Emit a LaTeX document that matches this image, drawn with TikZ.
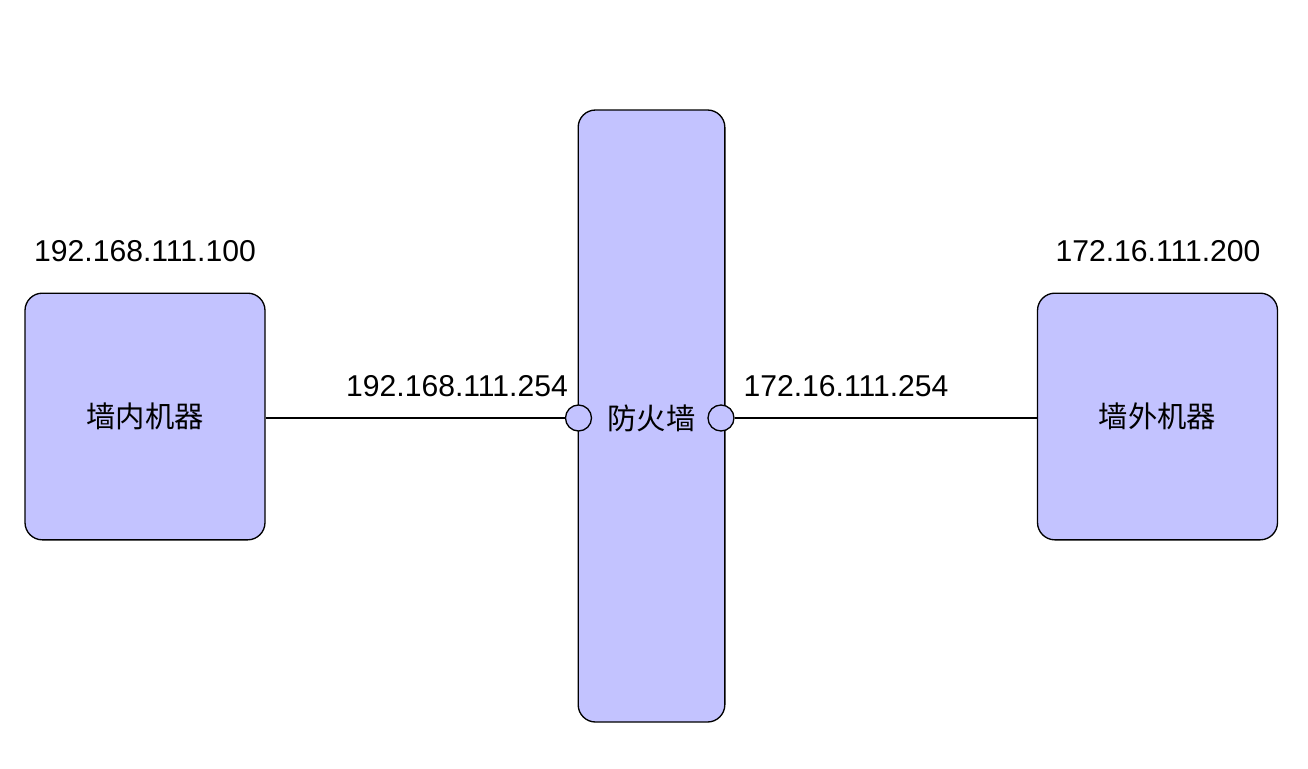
\documentclass[tikz,border=0pt]{standalone}
\usepackage{fontspec}
\setmainfont{Liberation Sans}
\newfontfamily\cjk{Noto Sans CJK SC}
\usepackage{tikz}
\usetikzlibrary{positioning}
\definecolor{wallblue}{RGB}{195,195,255}

\begin{document}
\begin{tikzpicture}[x=0.75pt,y=-0.75pt,line width=1pt,
  host/.style={draw,fill=wallblue,rounded corners=13pt,minimum width=180pt,minimum height=185pt,font=\cjk\fontsize{22}{26}\selectfont},
  port/.style={draw,fill=wallblue,circle,inner sep=0pt,minimum size=19.5pt},
  addr/.style={font=\fontsize{22.6}{27}\selectfont}]
\useasboundingbox (0,0) rectangle (1308,768);
\node[draw,fill=wallblue,rounded corners=13pt,minimum width=110pt,minimum height=459pt] (fw) at (651.5,416) {};
\node[host] (inner) at (145,416.5) {墙内机器};
\node[host] (outer) at (1157.5,416.5) {墙外机器};
\node[port] (pin) at (578.5,418) {};
\node[port] (pout) at (721,418) {};
\node[font=\cjk\fontsize{22}{26}\selectfont] (fwtext) at (651.5,418) {防火墙};
\draw (inner.east |- pin) -- (pin.west);
\draw (pout.east) -- (outer.west |- pout);
%% addresses
\node[addr] (ipin) at (145,251) {192.168.111.100};
\node[addr] (ipout) at (1158,251) {172.16.111.200};
\node[addr] (ipfwin) at (457,386) {192.168.111.254};
\node[addr] (ipfwout) at (846,386) {172.16.111.254};
\end{tikzpicture}
\end{document}
